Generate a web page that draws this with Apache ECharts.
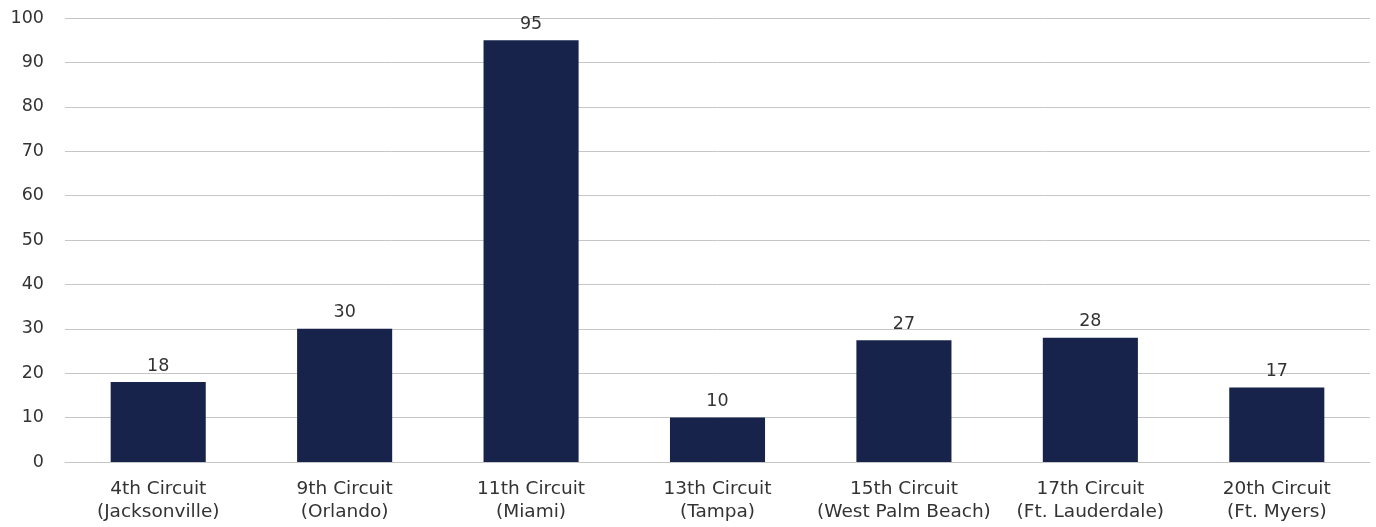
<!DOCTYPE html>
<html>
<head>
<meta charset="utf-8">
<script src="https://cdn.jsdelivr.net/npm/echarts@6/dist/echarts.min.js"></script>
<style>
  html, body { margin: 0; padding: 0; background: #fff; }
  #chart { width: 1376px; height: 527px; }
</style>
</head>
<body>
<div id="chart"></div>
<script>
// circuits and their counts
const circuits = [
  '4th Circuit\n(Jacksonville)',
  '9th Circuit\n(Orlando)',
  '11th Circuit\n(Miami)',
  '13th Circuit\n(Tampa)',
  '15th Circuit\n(West Palm Beach)',
  '17th Circuit\n(Ft. Lauderdale)',
  '20th Circuit\n(Ft. Myers)'
]
const counts = [18, 30, 95, 10, 27.4, 28, 16.8]
const yTicks = { min: 0, max: 100, interval: 10 }

const myChart = echarts.init(document.getElementById('chart'))
const font = '"DejaVu Sans", sans-serif'

const option = {
  animation: false,
  textStyle: { fontFamily: font },
  grid: { left: 65, right: 6, top: 18, bottom: 65 },
  xAxis: {
    type: 'category',
    data: circuits,
    axisLine: { show: true, lineStyle: { color: '#c6c6c6', width: 1 } },
    axisTick: { show: false },
    axisLabel: {
      color: '#333',
      fontSize: 18.5,
      fontFamily: font,
      lineHeight: 23,
      margin: 16,
      interval: 0
    }
  },
  yAxis: {
    type: 'value',
    min: yTicks.min,
    max: yTicks.max,
    interval: yTicks.interval,
    axisLine: { show: false },
    axisTick: { show: false },
    splitLine: { lineStyle: { color: '#c6c6c6', width: 1 } },
    axisLabel: { color: '#333', fontSize: 17.5, fontFamily: font, margin: 21 }
  },
  series: [
    {
      type: 'bar',
      data: counts,
      barWidth: '51%',
      itemStyle: { color: '#17234a' },
      label: {
        show: true,
        position: 'top',
        distance: 7,
        color: '#333',
        fontSize: 17.5,
        fontFamily: font,
        formatter: p => Math.round(p.value)
      }
    }
  ]
}
option && myChart.setOption(option)
</script>
</body>
</html>
